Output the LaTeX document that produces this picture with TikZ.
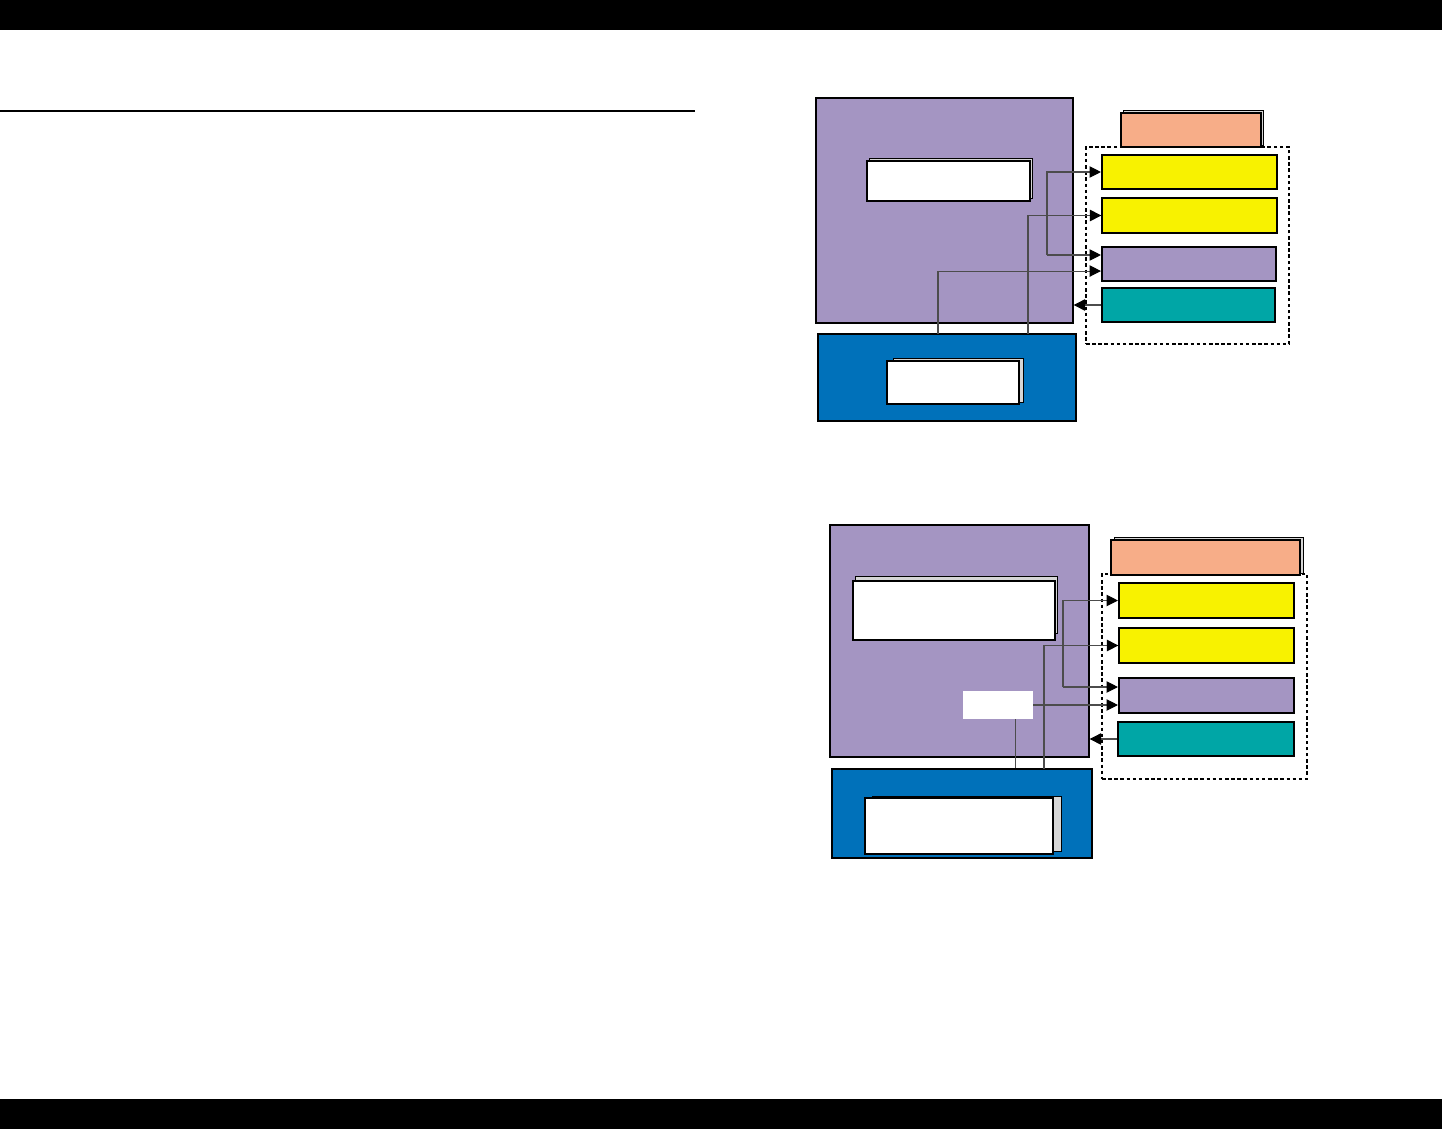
\documentclass[tikz,border=0pt]{standalone}
\usetikzlibrary{arrows.meta,fit}
\definecolor{lilac}{HTML}{A495C2}
\definecolor{lemon}{HTML}{F8F200}
\definecolor{sea}{HTML}{00A6A6}
\definecolor{ocean}{HTML}{0071BA}
\definecolor{salmon}{HTML}{F7AD88}
\definecolor{sheet}{HTML}{D6D6D6}
\begin{document}
\begin{tikzpicture}[x=0.02cm, y=-0.02cm,
    box/.style={draw, inner sep=0pt, line width=0.75pt},
    thickbox/.style={box, line width=1.2pt},
    sheetbox/.style={draw, fill=sheet, inner sep=0pt, line width=0.5pt},
    card/.style={draw, fill=white, inner sep=0pt, line width=0.6pt},
    frame/.style={draw, inner sep=0pt, line width=0.6pt, dash pattern=on 2pt off 1.5pt},
    wire/.style={black!70, line width=0.6pt},
    feed/.style={wire, -{Triangle[length=6.5pt,width=6.5pt,black]}}]
  \useasboundingbox (0,0) rectangle (1442,1129);
  \fill (0,0) rectangle (1442,30);
  \fill (0,1099) rectangle (1442,1129);
  \draw[line width=0.6pt] (0,111) -- (695,111);

  % upper diagram
  \node[box, fill=lilac, fit={(816,98) (1073,323)}] (host1) {};
  \node[sheetbox, fit={(869,158) (1032,198)}] (cardsh1) {};
  \node[card, fit={(867,161) (1030,201)}] (card1) {};
  \node[box, fill=ocean, fit={(818,334) (1076,421)}] (base1) {};
  \node[sheetbox, fit={(893,358) (1023,402)}] (slotsh1) {};
  \node[card, fit={(887,361) (1019,404)}] (slot1) {};
  \node[frame, fit={(1086,147) (1289,344)}] (group1) {};
  \node[sheetbox, fit={(1123,110) (1263,145)}] (tabsh1) {};
  \node[box, fill=salmon, fit={(1121,113) (1261,147)}] (tab1) {};
  \foreach \n/\s/\c/\t/\b/\r in {out1a/thickbox/lemon/155/189/1277,
      out1b/box/lemon/198/233/1277, bus1/thickbox/lilac/247/281/1276,
      in1/box/sea/288/322/1275}
    \node[\s, fill=\c, fit={(1102,\t) (\r,\b)}] (\n) {};

  \coordinate (tap1) at (1047,255);
  \coordinate (rise1a) at (1028,334);
  \coordinate (rise1b) at (938,334);
  \draw[feed] (tap1) |- (out1a.west);
  \draw[feed] (tap1) -- (tap1 -| bus1.west);
  \draw[feed] (rise1a) |- (out1b.west);
  \draw[feed] (rise1b) |- ([yshift=-4pt]bus1.west);
  \draw[feed] (in1.west) -- (in1.west -| host1.east);

  % lower diagram
  \node[box, fill=lilac, fit={(830,525) (1089,757)}] (host2) {};
  \node[sheetbox, fit={(855,576) (1057,633)}] (cardsh2) {};
  \node[card, fit={(853,581) (1055,640)}] (card2) {};
  \node[fill=white, inner sep=0pt, fit={(963,691) (1033,719)}] (chip2) {};
  \node[box, fill=ocean, fit={(832,769) (1092,858)}] (base2) {};
  \node[sheetbox, fit={(872,796) (1061,851)}] (slotsh2) {};
  \node[card, fit={(865,798) (1053,854)}] (slot2) {};
  \node[frame, fit={(1102,574) (1307,779)}] (group2) {};
  \node[sheetbox, fit={(1114,537) (1303,573)}] (tabsh2) {};
  \node[thickbox, fill=salmon, fit={(1111,540) (1300,575)}] (tab2) {};
  \foreach \n/\s/\c/\l/\t/\b in {out2a/thickbox/lemon/1119/583/618,
      out2b/box/lemon/1119/628/663, bus2/thickbox/lilac/1119/678/713,
      in2/thickbox/sea/1118/722/756}
    \node[\s, fill=\c, fit={(\l,\t) (1294,\b)}] (\n) {};

  \coordinate (tap2) at (1063,687);
  \coordinate (rise2a) at (1044,769);
  \draw[feed] (tap2) |- (out2a.west);
  \draw[feed] (tap2) -- (tap2 -| bus2.west);
  \draw[feed] (rise2a) |- (out2b.west);
  \draw[feed] (chip2.east) -- (chip2.east -| bus2.west);
  \draw[wire] ([xshift=10pt]chip2.south) -- ([xshift=10pt]chip2.south |- base2.north);
  \draw[feed] (in2.west) -- (in2.west -| host2.east);
\end{tikzpicture}
\end{document}
